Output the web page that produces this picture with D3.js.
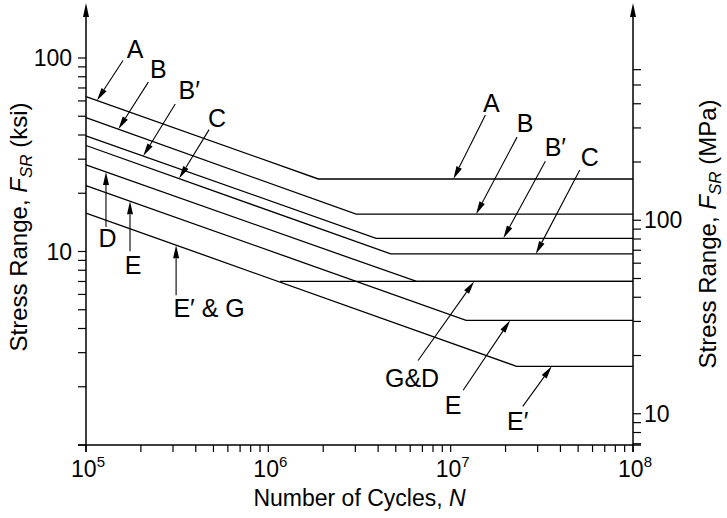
<!DOCTYPE html>
<html><head><meta charset="utf-8">
<script src="https://cdn.jsdelivr.net/npm/d3@7"></script>
<style>html,body{margin:0;padding:0;background:#fff}svg{display:block}text{font-family:"Liberation Sans",Arial,Helvetica,sans-serif;fill:#000}</style>
</head><body><svg id="c" width="727" height="518"></svg>
<script>
// ---- data ----
const categories = ["A", "B", "B′", "C", "D", "E", "E′", "G"];
const cyclesA  = [1e5, 1.88e6, 1e8];  const stressA  = [63.2, 23.7, 23.7];
const cyclesB  = [1e5, 3.03e6, 1e8];  const stressB  = [49.2, 15.6, 15.6];
const cyclesBp = [1e5, 3.9e6, 1e8];   const stressBp = [39.6, 11.7, 11.7];
const cyclesC  = [1e5, 4.69e6, 1e8];  const stressC  = [35.3, 9.72, 9.72];
const cyclesD  = [1e5, 6.5e6, 1e8];   const stressD  = [28.0, 7.0, 7.0];
const cyclesE  = [1e5, 1.215e7, 1e8]; const stressE  = [21.9, 4.41, 4.41];
const cyclesEp = [1e5, 2.3e7, 1e8];   const stressEp = [15.8, 2.55, 2.55];
const cyclesG  = [1.16e6, 1e8];       const stressG  = [7.0, 7.0];
const seriesCycles = [cyclesA, cyclesB, cyclesBp, cyclesC, cyclesD, cyclesE, cyclesEp, cyclesG];
const seriesStress = [stressA, stressB, stressBp, stressC, stressD, stressE, stressEp, stressG];

const xTickLabels = [5, 6, 7, 8];            // exponents of 10
const ksiTickLabels = ["10", "100"];
const mpaTickLabels = ["10", "100"];
const KSI_TO_MPA = 6.895;

// annotations: label, curve, cycles where the arrow touches the curve
const annLabels = ["A", "B", "B′", "C", "D", "E", "E′ & G", "A", "B", "B′", "C", "G&D", "E", "E′"];
const annSeries = ["A", "B", "B′", "C", "D", "E", "E′", "A", "B", "B′", "C", "D", "E", "E′"];
const annCycles = [1.149e5, 1.504e5, 2.06e5, 3.24e5, 1.287e5, 1.743e5, 3.12e5,
                   1.035e7, 1.378e7, 1.945e7, 2.93e7, 1.344e7, 2.12e7, 3.585e7];

// ---- layout (pixels) ----
const L = 86, R = 633, B = 445, T = 58, TOP = 3;
const FS = 23, FS_TITLE = 24, FS_ANN = 25;
// tail offset from tip, label centre offset from tip
const annTail = [[26,-40],[30,-47],[32,-52],[30,-49],[0,55],[0,50],[0,50],
                 [32,-64],[41,-77],[42,-77],[44,-84],[-56,79],[-47,70],[-29,40]];
const annText = [[38,-51],[40,-60],[46,-66],[38,-61],[1.5,66],[3,64],[33,63],
                 [38,-76],[49,-91],[52,-91],[54,-97],[-62,97],[-57,85],[-34,55]];

const svg = d3.select("#c");
const x = d3.scaleLog().domain([1e5, 1e8]).range([L, R]);
const y = d3.scaleLog().domain([1, 100]).range([B, T]);
const yM = d3.scaleLog().domain([KSI_TO_MPA, 100 * KSI_TO_MPA]).range([B, T]);

function stressAt(Ns, Fs, n) {
  for (let i = 0; i < Ns.length - 1; i++) {
    if (n >= Ns[i] && n <= Ns[i + 1]) {
      const t = (Math.log10(n) - Math.log10(Ns[i])) / (Math.log10(Ns[i + 1]) - Math.log10(Ns[i]));
      return Math.pow(10, Math.log10(Fs[i]) + t * (Math.log10(Fs[i + 1]) - Math.log10(Fs[i])));
    }
  }
  return Fs[Fs.length - 1];
}

const g = svg.append("g");
const stroke = "#000";

// curves
const line = d3.line().x(d => x(d[0])).y(d => y(d[1]));
categories.forEach((c, i) => {
  const pts = seriesCycles[i].map((n, j) => [n, seriesStress[i][j]]);
  g.append("path").attr("d", line(pts)).attr("fill", "none")
    .attr("stroke", stroke).attr("stroke-width", 1.3);
});

// x axis
g.append("line").attr("x1", L - 8).attr("x2", R + 8).attr("y1", B).attr("y2", B)
  .attr("stroke", stroke).attr("stroke-width", 1.5);
const xTicks = [];
for (let e = 5; e < 8; e++) for (let k = 1; k <= 9; k++) xTicks.push(k * Math.pow(10, e));
xTicks.push(1e8);
g.selectAll(".xt").data(xTicks).enter().append("line")
  .attr("x1", d => x(d)).attr("x2", d => x(d)).attr("y1", B).attr("y2", B + 7)
  .attr("stroke", stroke).attr("stroke-width", 1.2);
xTickLabels.forEach(ex => {
  const t = g.append("text").attr("x", x(Math.pow(10, ex)) + 2).attr("y", 477)
    .attr("text-anchor", "middle").attr("font-size", FS);
  t.append("tspan").text("10");
  t.append("tspan").attr("dy", -10).attr("font-size", 15).text(ex);
});
g.append("text").attr("x", (L + R) / 2).attr("y", 506).attr("text-anchor", "middle")
  .attr("font-size", FS).html('Number of Cycles, <tspan font-style="italic">N</tspan>');

// y axes with arrows
function arrowUp(xp) {
  g.append("line").attr("x1", xp).attr("x2", xp).attr("y1", B + 7).attr("y2", TOP + 8)
    .attr("stroke", stroke).attr("stroke-width", 1.5);
  g.append("path").attr("d", `M${xp},${TOP} L${xp - 3},${TOP + 14} L${xp + 3},${TOP + 14} Z`).attr("fill", stroke);
}
arrowUp(L); arrowUp(R);

const ksiTicks = [];
for (let e = 0; e < 2; e++) for (let k = 1; k <= 9; k++) ksiTicks.push(k * Math.pow(10, e));
ksiTicks.push(100);
g.selectAll(".yl").data(ksiTicks).enter().append("line")
  .attr("x1", L - 8).attr("x2", L).attr("y1", d => y(d)).attr("y2", d => y(d))
  .attr("stroke", stroke).attr("stroke-width", 1.2);
ksiTickLabels.forEach(s => {
  g.append("text").attr("x", L - 14).attr("y", y(+s) + 8).attr("text-anchor", "end")
    .attr("font-size", FS).text(s);
});

const mpaTicks = [7, 8, 9];
for (let e = 1; e < 3; e++) for (let k = 1; k <= 9; k++) mpaTicks.push(k * Math.pow(10, e));
mpaTicks.push(200, 300, 400, 500, 600);
const mt = Array.from(new Set(mpaTicks)).filter(d => d <= 600);
g.selectAll(".yr").data(mt).enter().append("line")
  .attr("x1", R).attr("x2", R + 8).attr("y1", d => yM(d)).attr("y2", d => yM(d))
  .attr("stroke", stroke).attr("stroke-width", 1.2);
mpaTickLabels.forEach(s => {
  g.append("text").attr("x", R + 11).attr("y", yM(+s) + 8).attr("text-anchor", "start")
    .attr("font-size", FS).text(s);
});

// axis titles
function yTitle(xp, yp, unit) {
  const t = g.append("text").attr("transform", `translate(${xp},${yp}) rotate(-90)`)
    .attr("text-anchor", "middle").attr("font-size", FS_TITLE);
  t.append("tspan").text("Stress Range, ");
  t.append("tspan").attr("font-style", "italic").text("F");
  t.append("tspan").attr("font-style", "italic").attr("font-size", 17).attr("dy", 5).text("SR");
  t.append("tspan").attr("dy", -5).text(" (" + unit + ")");
}
yTitle(27, 227, "ksi");
yTitle(716, 234, "MPa");

// annotations
annLabels.forEach((lab, i) => {
  const si = categories.indexOf(annSeries[i]);
  const n = annCycles[i];
  const tx = x(n), ty = y(stressAt(seriesCycles[si], seriesStress[si], n));
  const ax = tx + annTail[i][0], ay = ty + annTail[i][1];
  const dx = tx - ax, dy = ty - ay, len = Math.hypot(dx, dy);
  const ux = dx / len, uy = dy / len;
  const hl = 13, hw = 3;
  const bx = tx - ux * hl, by = ty - uy * hl;
  g.append("line").attr("x1", ax).attr("y1", ay).attr("x2", bx).attr("y2", by)
    .attr("stroke", stroke).attr("stroke-width", 1.1);
  g.append("path").attr("d", `M${tx},${ty} L${bx - uy * hw},${by + ux * hw} L${bx + uy * hw},${by - ux * hw} Z`)
    .attr("fill", stroke);
  const cx = tx + annText[i][0], cy = ty + annText[i][1];
  g.append("text").attr("x", cx).attr("y", cy + 9).attr("text-anchor", "middle")
    .attr("font-size", FS_ANN).text(lab);
});
</script></body></html>
